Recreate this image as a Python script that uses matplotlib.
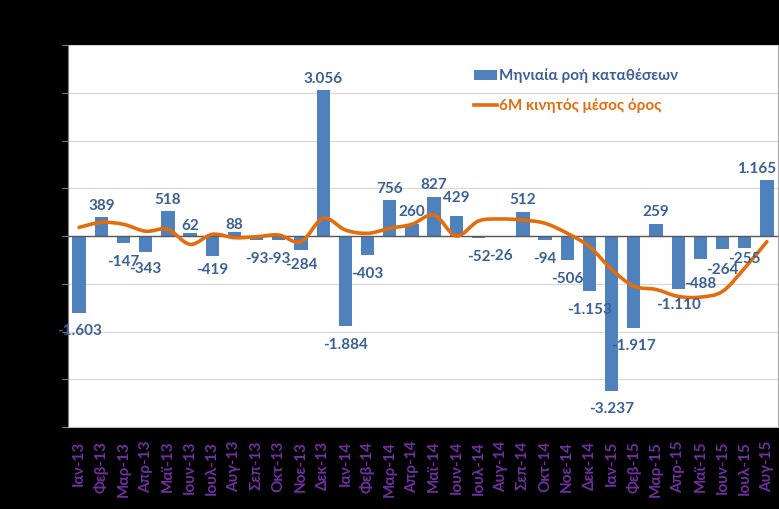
import matplotlib
matplotlib.use("Agg")
import matplotlib.pyplot as plt
from matplotlib.path import Path
from matplotlib.patches import PathPatch, Patch
from matplotlib.lines import Line2D
import numpy as np

categories = ["Ιαν-13", "Φεβ-13", "Μαρ-13", "Απρ-13", "Μαϊ-13", "Ιουν-13", "Ιουλ-13", "Αυγ-13",
              "Σεπ-13", "Οκτ-13", "Νοε-13", "Δεκ-13",
              "Ιαν-14", "Φεβ-14", "Μαρ-14", "Απρ-14", "Μαϊ-14", "Ιουν-14", "Ιουλ-14", "Αυγ-14",
              "Σεπ-14", "Οκτ-14", "Νοε-14", "Δεκ-14",
              "Ιαν-15", "Φεβ-15", "Μαρ-15", "Απρ-15", "Μαϊ-15", "Ιουν-15", "Ιουλ-15", "Αυγ-15"]

monthly_flow = [-1603, 389, -147, -343, 518, 62, -419, 88,
                -93, -93, -284, 3056,
                -1884, -403, 756, 260, 827, 429, -52, -26,
                512, -94, -506, -1153,
                -3237, -1917, 259, -1110, -488, -264, -255, 1165]

moving_avg_6m = [180, 285, 245, 100, 140, -175, 35, -35,
                 -15, 20, -120, 372,
                 126, 56, 160, 245, 440, 0, 314, 356,
                 335, 266, 56, -222,
                 -700, -1050, -1120, -1265, -1280, -1160, -670, -118]

series_names = ["Μηνιαία ροή καταθέσεων", "6M κινητός μέσος όρος"]

# label nudges (points: dx, dy) for a few labels placed off the default spot
label_nudge = {3: (0, 1.5), 5: (0, -3), 6: (0, 3.5), 7: (0, -3), 10: (0, 2.5),
               17: (0, 4.5), 27: (0, 2), 28: (0, -4), 29: (0, -2), 30: (0, 6),
               31: (-7.5, 0)}

BAR = "#4F81BD"
ORANGE = "#E46C0A"
LABEL = "#3A6096"
PURPLE = "#7030A0"
FONT = "Lato"

fig = plt.figure(figsize=(7.79, 5.09), dpi=100, facecolor="black")
W, H = 779, 509
ax = fig.add_axes([68 / W, (H - 427) / H, (778 - 68) / W, (427 - 45) / H])
ax.set_facecolor("white")

x = np.arange(len(categories))
ax.bar(x, monthly_flow, width=0.6, color=BAR, zorder=2)

# smoothed line (Catmull-Rom style Bezier, like Excel's smoothed line)
pts = np.column_stack([x, moving_avg_6m]).astype(float)
verts = [tuple(pts[0])]
codes = [Path.MOVETO]
n = len(pts)
for i in range(n - 1):
    p0 = pts[i - 1] if i > 0 else pts[i]
    p1 = pts[i]
    p2 = pts[i + 1]
    p3 = pts[i + 2] if i + 2 < n else pts[i + 1]
    c1 = p1 + (p2 - p0) / 6.0
    c2 = p2 - (p3 - p1) / 6.0
    verts += [tuple(c1), tuple(c2), tuple(p2)]
    codes += [Path.CURVE4, Path.CURVE4, Path.CURVE4]
ax.add_patch(PathPatch(Path(verts, codes), facecolor="none", edgecolor=ORANGE,
                       lw=2.6, capstyle="round", zorder=4))

ax.axhline(0, color="#595959", lw=1.0, zorder=3)

ax.set_xlim(-0.5, len(categories) - 0.5)
ax.set_ylim(-4000, 4000)
ax.set_yticks(np.arange(-4000, 4001, 1000))
ax.yaxis.grid(True, color="#D9D9D9", lw=0.9, zorder=0)
ax.set_axisbelow(True)
ax.tick_params(axis="y", which="both", left=True, labelleft=False, length=4,
               color="#808080", direction="out")
ax.set_xticks(x)
ax.set_xticklabels(categories, rotation=90, color=PURPLE, fontsize=11,
                   fontweight="bold", family=FONT)
ax.tick_params(axis="x", length=0, pad=10)
for lab in ax.get_xticklabels():
    lab.set_va("top")
    lab.set_ha("center")

ax.spines["top"].set_visible(False)
ax.spines["left"].set_color("#808080")
ax.spines["bottom"].set_color("#BFBFBF")
ax.spines["right"].set_color("#A6A6A6")

for i, v in enumerate(monthly_flow):
    txt = f"{abs(v):,}".replace(",", ".")
    if v < 0:
        txt = "-" + txt
    dx, dy = label_nudge.get(i, (0, 0))
    if v >= 0:
        ax.annotate(txt, (i, v), xytext=(dx, 3 + dy), textcoords="offset points",
                    ha="center", va="bottom", fontsize=11, fontweight="bold",
                    color=LABEL, family=FONT, zorder=5, annotation_clip=False)
    else:
        ax.annotate(txt, (i, v), xytext=(dx, -8.5 + dy), textcoords="offset points",
                    ha="center", va="top", fontsize=11, fontweight="bold",
                    color=LABEL, family=FONT, zorder=5, annotation_clip=False)

handles = [Patch(facecolor=BAR, edgecolor="none"),
           Line2D([0], [0], color=ORANGE, lw=2.6)]
leg = ax.legend(handles, series_names, loc="upper left",
                bbox_to_anchor=(0.552, 0.975), frameon=False,
                prop={"family": FONT, "weight": "bold", "size": 11},
                handlelength=1.5, handleheight=0.6, handletextpad=0.15,
                labelspacing=1.0)
for t, c in zip(leg.get_texts(), [LABEL, ORANGE]):
    t.set_color(c)

fig.savefig("out.png", dpi=100, facecolor="black")
